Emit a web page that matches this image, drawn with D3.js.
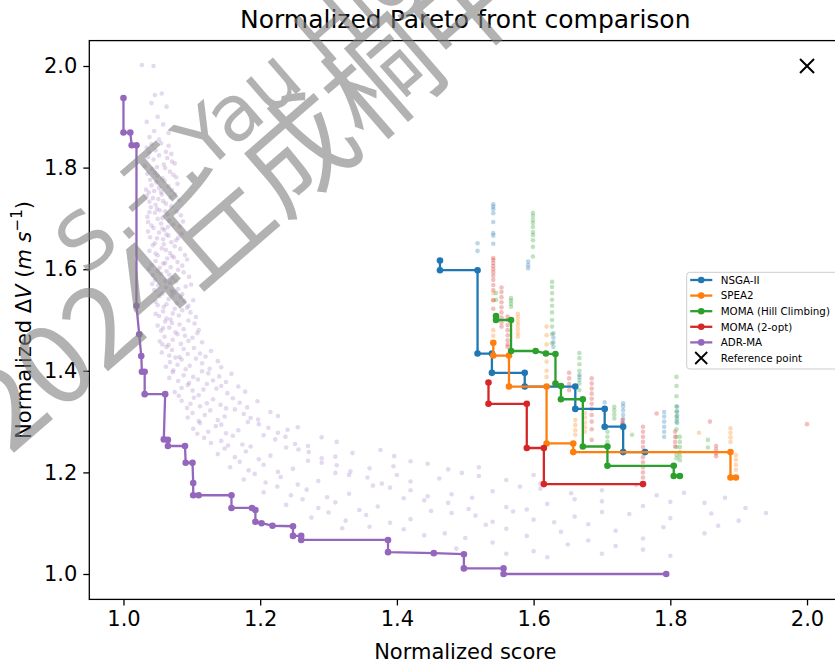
<!DOCTYPE html>
<html>
<head>
<meta charset="utf-8">
<script src="https://cdn.jsdelivr.net/npm/d3@7"></script>
<style>
  body { margin: 0; background: #fff; }
  svg { display: block; font-family: "DejaVu Sans", sans-serif; }
</style>
</head>
<body>
<div id="chart"></div>
<script>
// legend order / colours (matplotlib tab10)
const seriesNames = ["NSGA-II", "SPEA2", "MOMA (Hill Climbing)", "MOMA (2-opt)", "ADR-MA"];
const seriesColors = ["#1f77b4", "#ff7f0e", "#2ca02c", "#d62728", "#9467bd"];

// Pareto fronts, every vertex drawn with a marker: [score, deltaV]
const nsga2Front = [[1.463,1.617],[1.463,1.598],[1.518,1.598],[1.518,1.434],[1.539,1.434],[1.539,1.396],[1.587,1.396],[1.587,1.369],[1.661,1.369],[1.661,1.325],[1.704,1.325],[1.704,1.290],[1.731,1.290],[1.731,1.240],[1.763,1.240]];
const spea2Front = [[1.541,1.455],[1.541,1.430],[1.564,1.430],[1.564,1.369],[1.619,1.369],[1.619,1.257],[1.658,1.257],[1.658,1.240],[1.888,1.240],[1.888,1.190],[1.896,1.190]];
const momaHcFront = [[1.545,1.508],[1.545,1.500],[1.567,1.500],[1.567,1.439],[1.603,1.439],[1.618,1.434],[1.632,1.433],[1.632,1.375],[1.640,1.370],[1.640,1.344],[1.672,1.344],[1.672,1.251],[1.708,1.251],[1.708,1.213],[1.805,1.213],[1.805,1.193],[1.814,1.193]];
const moma2optFront = [[1.534,1.377],[1.534,1.335],[1.590,1.335],[1.590,1.248],[1.615,1.248],[1.615,1.177],[1.760,1.177]];
const adrFront = [[1.000,1.937],[1.000,1.869],[1.010,1.869],[1.012,1.844],[1.019,1.844],[1.019,1.528],[1.023,1.472],[1.026,1.429],[1.027,1.398],[1.031,1.398],[1.031,1.354],[1.061,1.354],[1.059,1.265],[1.065,1.264],[1.065,1.252],[1.090,1.252],[1.091,1.219],[1.101,1.219],[1.102,1.179],[1.102,1.155],[1.110,1.155],[1.158,1.155],[1.158,1.130],[1.188,1.130],[1.193,1.126],[1.193,1.103],[1.202,1.100],[1.218,1.095],[1.248,1.094],[1.248,1.075],[1.260,1.075],[1.260,1.067],[1.387,1.067],[1.387,1.043],[1.454,1.041],[1.498,1.039],[1.498,1.011],[1.556,1.011],[1.556,1.000],[1.794,1.000]];
const fronts = [nsga2Front, spea2Front, momaHcFront, moma2optFront, adrFront];

// final populations, read column by column: {x, ys}
const nsga2Pop = [
  {x: 1.541, ys: [1.728,1.723,1.718,1.710,1.693,1.671,1.666,1.650]},
  {x: 1.518, ys: [1.651,1.636]},
  {x: 1.592, ys: [1.615,1.608,1.602]},
  {x: 1.629, ys: [1.474,1.465,1.456,1.447]},
  {x: 1.667, ys: [1.392,1.382]},
  {x: 1.704, ys: [1.338]},
  {x: 1.731, ys: [1.336,1.330,1.322,1.313,1.305,1.296,1.287]},
  {x: 1.791, ys: [1.319,1.310,1.300,1.290,1.280,1.270]},
  {x: 1.810, ys: [1.329,1.320,1.312,1.305,1.297]}
];
const spea2Pop = [
  {x: 1.541, ys: [1.553,1.539,1.480,1.469]},
  {x: 1.577, ys: [1.512,1.505,1.497,1.490,1.482,1.474,1.467]},
  {x: 1.619, ys: [1.487,1.470,1.452,1.435,1.418,1.400,1.388]},
  {x: 1.661, ys: [1.303,1.293,1.283,1.274]},
  {x: 1.675, ys: [1.317,1.308,1.298,1.289,1.280]},
  {x: 1.842, ys: [1.278]},
  {x: 1.888, ys: [1.287,1.278,1.269,1.260]},
  {x: 1.896, ys: [1.234,1.225,1.215,1.205]}
];
const momaHcPop = [
  {x: 1.599, ys: [1.711,1.705,1.697,1.691,1.683,1.673,1.667,1.657,1.644,1.625]},
  {x: 1.545, ys: [1.553,1.540]},
  {x: 1.567, ys: [1.543,1.538,1.532,1.526]},
  {x: 1.627, ys: [1.575,1.565,1.553,1.540,1.528,1.515,1.500,1.487,1.472,1.454]},
  {x: 1.667, ys: [1.435,1.425,1.413,1.400,1.388,1.375,1.362]},
  {x: 1.718, ys: [1.329,1.322,1.314,1.306]},
  {x: 1.708, ys: [1.280,1.270,1.260]},
  {x: 1.744, ys: [1.274]},
  {x: 1.809, ys: [1.388,1.370,1.350,1.330,1.320,1.310,1.300,1.285,1.270,1.250,1.235,1.228]},
  {x: 1.814, ys: [1.270,1.260,1.250,1.240,1.232,1.224]},
  {x: 1.855, ys: [1.264,1.249]}
];
const moma2optPop = [
  {x: 1.541, ys: [1.622,1.618,1.612,1.606,1.600,1.594,1.587,1.579,1.569,1.559,1.539,1.522]},
  {x: 1.553, ys: [1.564,1.555,1.545,1.535,1.525,1.515,1.505,1.495,1.487]},
  {x: 1.562, ys: [1.507,1.500,1.490,1.480,1.470,1.460,1.452,1.447]},
  {x: 1.652, ys: [1.396,1.385,1.374,1.362]},
  {x: 1.685, ys: [1.385,1.375,1.365,1.355,1.345,1.335,1.325,1.313,1.300,1.285,1.264]},
  {x: 1.730, ys: [1.303,1.297,1.293]},
  {x: 1.760, ys: [1.290,1.280,1.270,1.260,1.250,1.240,1.230,1.220,1.210,1.200,1.190,1.179]},
  {x: 1.780, ys: [1.316]},
  {x: 1.807, ys: [1.280,1.270,1.260,1.251]},
  {x: 1.858, ys: [1.300]},
  {x: 1.867, ys: [1.252,1.245,1.238,1.232]},
  {x: 2.000, ys: [1.295]}
];
// ADR-MA population cloud: [score, deltaV]
const adrPop = [
  [1.027,2.002],[1.044,2.000],[1.046,1.943],[1.056,1.946],[1.041,1.927],[1.063,1.920],[1.050,1.900],[1.034,1.890],[1.058,1.885],[1.045,1.872],[1.066,1.868],[1.038,1.860],[1.052,1.855],
  [1.041,1.846],[1.062,1.831],[1.034,1.839],[1.055,1.848],[1.070,1.827],[1.047,1.834],[1.038,1.829],[1.066,1.843],
  [1.036,1.821],[1.059,1.806],[1.044,1.816],[1.071,1.812],[1.052,1.824],[1.031,1.803],[1.064,1.819],[1.049,1.801],[1.075,1.808],
  [1.042,1.797],[1.057,1.779],[1.035,1.788],[1.068,1.792],[1.050,1.784],[1.077,1.781],[1.039,1.776],[1.061,1.799],[1.046,1.790],[1.073,1.786],
  [1.048,1.771],[1.033,1.757],[1.066,1.763],[1.055,1.752],[1.079,1.768],[1.041,1.765],[1.060,1.774],[1.037,1.751],[1.071,1.756],[1.052,1.760],[1.045,1.754],
  [1.056,1.747],[1.038,1.733],[1.069,1.741],[1.047,1.727],[1.081,1.736],[1.034,1.744],[1.062,1.729],[1.051,1.738],[1.075,1.748],[1.043,1.740],[1.058,1.734],
  [1.040,1.722],[1.064,1.708],[1.053,1.716],[1.035,1.703],[1.078,1.713],[1.046,1.711],[1.070,1.724],[1.057,1.701],[1.084,1.706],[1.049,1.719],[1.061,1.714],[1.038,1.712],
  [1.067,1.696],[1.044,1.681],[1.055,1.690],[1.082,1.684],[1.036,1.693],[1.060,1.677],[1.073,1.688],[1.050,1.699],[1.041,1.686],[1.065,1.683],[1.087,1.694],[1.057,1.680],
  [1.052,1.672],[1.077,1.657],[1.039,1.663],[1.063,1.668],[1.046,1.651],[1.085,1.670],[1.058,1.659],[1.070,1.653],[1.036,1.674],[1.049,1.661],[1.066,1.666],[1.080,1.662],
  [1.043,1.647],[1.068,1.632],[1.056,1.641],[1.090,1.628],[1.038,1.636],[1.075,1.645],[1.050,1.627],[1.062,1.638],[1.083,1.640],[1.047,1.631],[1.071,1.626],[1.059,1.649],
  [1.064,1.621],[1.041,1.608],[1.079,1.614],[1.053,1.603],[1.093,1.619],[1.047,1.616],[1.069,1.604],[1.058,1.611],[1.086,1.607],[1.037,1.600],[1.074,1.623],[1.061,1.612],
  [1.050,1.597],[1.072,1.582],[1.043,1.588],[1.088,1.594],[1.061,1.577],[1.096,1.585],[1.055,1.591],[1.080,1.599],[1.067,1.589],[1.046,1.579],[1.077,1.576],[1.063,1.596],
  [1.068,1.573],[1.045,1.559],[1.091,1.566],[1.057,1.552],[1.080,1.561],[1.099,1.570],[1.051,1.568],[1.074,1.554],[1.062,1.564],[1.086,1.551],[1.042,1.571],[1.070,1.557],
  [1.053,1.547],[1.078,1.533],[1.066,1.541],[1.095,1.528],[1.047,1.536],[1.084,1.546],[1.059,1.526],[1.102,1.539],[1.071,1.548],[1.063,1.531],[1.089,1.538],[1.050,1.529],
  [1.075,1.522],[1.052,1.508],[1.098,1.515],[1.063,1.503],[1.086,1.519],[1.047,1.512],[1.069,1.501],[1.106,1.506],[1.058,1.517],[1.081,1.509],[1.093,1.524],[1.072,1.513],
  [1.061,1.497],[1.088,1.482],[1.050,1.489],[1.076,1.476],[1.104,1.493],[1.067,1.485],[1.095,1.499],[1.055,1.479],[1.082,1.491],[1.110,1.480],[1.071,1.494],[1.058,1.484],
  [1.079,1.472],[1.053,1.458],[1.101,1.465],[1.066,1.451],[1.090,1.469],[1.115,1.456],[1.060,1.467],[1.084,1.453],[1.072,1.461],[1.108,1.474],[1.095,1.459],[1.057,1.452],
  [1.063,1.447],[1.094,1.433],[1.071,1.441],[1.120,1.428],[1.056,1.436],[1.103,1.445],[1.082,1.427],[1.128,1.439],[1.088,1.443],[1.067,1.430],[1.112,1.434],[1.076,1.426],
  [1.085,1.422],[1.062,1.408],[1.115,1.415],[1.073,1.401],[1.138,1.419],[1.097,1.410],[1.068,1.417],[1.126,1.404],[1.091,1.403],[1.106,1.424],[1.079,1.412],[1.143,1.407],
  [1.072,1.397],[1.109,1.383],[1.088,1.391],[1.150,1.378],[1.067,1.386],[1.124,1.395],[1.096,1.376],[1.140,1.389],[1.080,1.380],[1.115,1.399],[1.158,1.394],[1.102,1.388],[1.131,1.381],
  [1.094,1.372],[1.075,1.358],[1.136,1.365],[1.110,1.352],[1.168,1.369],[1.085,1.366],[1.122,1.374],[1.152,1.356],[1.101,1.361],[1.178,1.359],[1.081,1.351],[1.143,1.370],[1.117,1.363],
  [1.103,1.347],[1.142,1.333],[1.085,1.341],[1.181,1.328],[1.122,1.336],[1.160,1.346],[1.093,1.327],[1.196,1.340],[1.131,1.344],[1.112,1.330],[1.170,1.337],[1.150,1.326],[1.098,1.335],
  [1.127,1.322],[1.094,1.308],[1.176,1.315],[1.110,1.301],[1.215,1.319],[1.148,1.310],[1.101,1.317],[1.197,1.304],[1.138,1.303],[1.226,1.311],[1.163,1.324],[1.119,1.313],[1.186,1.307],
  [1.112,1.297],[1.168,1.283],[1.135,1.291],[1.226,1.278],[1.102,1.286],[1.198,1.295],[1.150,1.277],[1.255,1.289],[1.124,1.280],[1.182,1.299],[1.240,1.284],[1.143,1.294],[1.212,1.288],[1.108,1.276],
  [1.160,1.272],[1.128,1.258],[1.222,1.265],[1.186,1.251],[1.290,1.269],[1.143,1.262],[1.251,1.256],[1.205,1.273],[1.118,1.268],[1.312,1.260],[1.174,1.255],[1.237,1.270],[1.270,1.252],[1.153,1.253],
  [1.148,1.247],[1.215,1.233],[1.179,1.241],[1.290,1.228],[1.138,1.236],[1.256,1.245],[1.335,1.238],[1.198,1.226],[1.376,1.244],[1.163,1.230],[1.238,1.249],[1.310,1.231],[1.271,1.240],[1.396,1.232],
  [1.170,1.221],[1.248,1.207],[1.205,1.215],[1.332,1.202],[1.156,1.210],[1.290,1.219],[1.395,1.212],[1.226,1.201],[1.445,1.217],[1.183,1.204],[1.270,1.223],[1.360,1.208],[1.312,1.214],[1.475,1.206],[1.420,1.222],
  [1.192,1.197],[1.285,1.183],[1.230,1.191],[1.378,1.178],[1.176,1.186],[1.330,1.195],[1.462,1.188],[1.255,1.176],[1.520,1.193],[1.208,1.180],[1.310,1.199],[1.420,1.182],[1.357,1.190],[1.560,1.185],[1.495,1.199],[1.400,1.195],
  [1.225,1.172],[1.330,1.158],[1.268,1.166],[1.445,1.153],[1.205,1.161],[1.390,1.170],[1.540,1.163],[1.298,1.151],[1.610,1.168],[1.245,1.155],[1.365,1.174],[1.480,1.157],[1.420,1.165],[1.655,1.159],[1.580,1.172],[1.510,1.150],
  [1.262,1.147],[1.372,1.133],[1.310,1.141],[1.505,1.128],[1.238,1.136],[1.440,1.145],[1.620,1.138],[1.345,1.126],[1.700,1.143],[1.285,1.130],[1.410,1.149],[1.560,1.132],[1.475,1.140],[1.760,1.134],[1.660,1.147],[1.590,1.127],[1.800,1.142],
  [1.300,1.121],[1.420,1.108],[1.355,1.116],[1.540,1.103],[1.275,1.111],[1.480,1.120],[1.660,1.113],[1.390,1.101],[1.740,1.118],[1.325,1.105],[1.450,1.124],[1.600,1.107],[1.515,1.115],[1.800,1.110],[1.700,1.122],[1.630,1.102],[1.860,1.119],[1.570,1.123],
  [1.360,1.093],[1.470,1.080],[1.410,1.088],[1.590,1.075],[1.320,1.090],[1.530,1.097],[1.720,1.085],[1.440,1.076],[1.790,1.092],[1.640,1.083],[1.560,1.089],[1.850,1.080],[1.680,1.098],[1.500,1.071],[1.760,1.070],
  [1.487,1.050],[1.540,1.062],[1.600,1.045],[1.650,1.058],[1.700,1.040],[1.620,1.033],[1.760,1.048],[1.800,1.036],[1.720,1.055],[1.560,1.040],[1.680,1.066],
  [1.610,1.178],[1.700,1.165],[1.750,1.175],[1.820,1.160],[1.880,1.150],[1.910,1.130],[1.850,1.140],[1.900,1.105],[1.780,1.155],[1.870,1.095],[1.940,1.120],[1.520,1.210],[1.600,1.195]
];
const pops = [nsga2Pop, spea2Pop, momaHcPop, moma2optPop];

const referencePoint = [2.0, 2.0];
const xTicks = [1.0, 1.2, 1.4, 1.6, 1.8, 2.0];
const yTicks = [1.0, 1.2, 1.4, 1.6, 1.8, 2.0];

(function () {
  const width = 835;
  const height = 663;
  const plot = { left: 89.3, top: 40.6, right: 841.2, bottom: 599.4 };

  const svg = d3.select("#chart")
    .append("svg")
    .attr("width", width)
    .attr("height", height);

  const x = d3.scaleLinear()
    .domain([0.95, 2.05])
    .range([plot.left, plot.right]);

  const y = d3.scaleLinear()
    .domain([0.95, 2.05])
    .range([plot.bottom, plot.top]);

  svg.append("clipPath")
    .attr("id", "plotClip")
    .append("rect")
    .attr("x", plot.left)
    .attr("y", plot.top)
    .attr("width", plot.right - plot.left)
    .attr("height", plot.bottom - plot.top);

  const area = svg.append("g").attr("clip-path", "url(#plotClip)");

  // population clouds
  area.append("g")
    .selectAll("circle")
    .data(adrPop)
    .enter().append("circle")
    .attr("cx", d => x(d[0]))
    .attr("cy", d => y(d[1]))
    .attr("r", 2.3)
    .attr("fill", seriesColors[4])
    .attr("opacity", 0.25);

  pops.forEach((pop, i) => {
    const pts = pop.flatMap(c => c.ys.map(v => [c.x, v]));
    area.append("g")
      .selectAll("circle")
      .data(pts)
      .enter().append("circle")
      .attr("cx", d => x(d[0]))
      .attr("cy", d => y(d[1]))
      .attr("r", 2.3)
      .attr("fill", seriesColors[i])
      .attr("opacity", 0.3);
  });

  // fronts
  const line = d3.line()
    .x(d => x(d[0]))
    .y(d => y(d[1]));

  fronts.forEach((front, i) => {
    const g = area.append("g");
    g.append("path")
      .datum(front)
      .attr("d", line)
      .attr("fill", "none")
      .attr("stroke", seriesColors[i])
      .attr("stroke-width", 2.3)
      .attr("stroke-linejoin", "round");
    g.selectAll("circle")
      .data(front)
      .enter().append("circle")
      .attr("cx", d => x(d[0]))
      .attr("cy", d => y(d[1]))
      .attr("r", 3.3)
      .attr("fill", seriesColors[i]);
  });

  // reference point
  area.append("path")
    .attr("d", "M-7,-7L7,7M-7,7L7,-7")
    .attr("transform", `translate(${x(referencePoint[0])},${y(referencePoint[1])})`)
    .attr("stroke", "black")
    .attr("stroke-width", 2);

  // axes
  const xAxis = svg.append("g")
    .attr("transform", `translate(0,${plot.bottom})`)
    .call(d3.axisBottom(x).tickValues(xTicks).tickFormat(d3.format(".1f")).tickSize(6).tickPadding(6));
  const yAxis = svg.append("g")
    .attr("transform", `translate(${plot.left},0)`)
    .call(d3.axisLeft(y).tickValues(yTicks).tickFormat(d3.format(".1f")).tickSize(6).tickPadding(6));

  [xAxis, yAxis].forEach(ax => {
    ax.select(".domain").remove();
    ax.selectAll("line").attr("stroke", "#000").attr("stroke-width", 1.3);
    ax.selectAll("text")
      .style("font-family", "DejaVu Sans, sans-serif")
      .style("font-size", "21px")
      .attr("fill", "#000");
  });

  svg.append("rect")
    .attr("x", plot.left)
    .attr("y", plot.top)
    .attr("width", plot.right - plot.left)
    .attr("height", plot.bottom - plot.top)
    .attr("fill", "none")
    .attr("stroke", "#000")
    .attr("stroke-width", 1.3);

  // titles
  svg.append("text")
    .attr("x", (plot.left + plot.right) / 2)
    .attr("y", 28)
    .attr("text-anchor", "middle")
    .style("font-size", "25px")
    .text("Normalized Pareto front comparison");

  svg.append("text")
    .attr("x", (plot.left + plot.right) / 2)
    .attr("y", 659)
    .attr("text-anchor", "middle")
    .style("font-size", "21px")
    .text("Normalized score");

  const yl = svg.append("text")
    .attr("transform", `translate(31,${(plot.top + plot.bottom) / 2}) rotate(-90)`)
    .attr("text-anchor", "middle")
    .style("font-size", "21px");
  yl.append("tspan").text("Normalized Δ");
  yl.append("tspan").style("font-style", "italic").text("V");
  yl.append("tspan").text(" (");
  yl.append("tspan").style("font-style", "italic").text("m");
  yl.append("tspan").text(" ");
  yl.append("tspan").style("font-style", "italic").text("s");
  yl.append("tspan").attr("dy", -9).style("font-size", "15px").text("−1");
  yl.append("tspan").attr("dy", 9).text(")");

  // legend
  const legend = svg.append("g").attr("transform", "translate(686.7,272.3)");
  legend.append("rect")
    .attr("width", 160)
    .attr("height", 96.7)
    .attr("rx", 3)
    .attr("fill", "white")
    .attr("fill-opacity", 0.8)
    .attr("stroke", "#cccccc");

  const entries = seriesNames.map((n, i) => ({ name: n, color: seriesColors[i] }))
    .concat([{ name: "Reference point", color: null }]);

  const rows = legend.selectAll("g.row")
    .data(entries)
    .enter().append("g")
    .attr("class", "row")
    .attr("transform", (d, i) => `translate(0,${7.7 + i * 15.6})`);

  rows.filter(d => d.color).append("line")
    .attr("x1", 3.5).attr("x2", 25.6)
    .attr("stroke", d => d.color)
    .attr("stroke-width", 2.3);
  rows.filter(d => d.color).append("circle")
    .attr("cx", 14.5)
    .attr("r", 3.3)
    .attr("fill", d => d.color);
  rows.filter(d => !d.color).append("path")
    .attr("d", "M-6,-6L6,6M-6,6L6,-6")
    .attr("transform", "translate(14.5,0)")
    .attr("stroke", "black")
    .attr("stroke-width", 1.8);
  rows.append("text")
    .attr("x", 34)
    .attr("y", 3.7)
    .style("font-size", "10.3px")
    .text(d => d.name);

  // watermark over the figure
  const wm = svg.append("g")
    .attr("fill", "#808080")
    .attr("opacity", 0.6)
    .style("pointer-events", "none");
  const wm1 = wm.append("g").attr("transform", "translate(205,173) rotate(-41)")
    .style("font-family", "DejaVu Sans, sans-serif")
    .style("font-size", "78px");
  wm1.append("text").attr("text-anchor", "end").text("S.-T. ");
  wm1.append("text").text("Yau High School");
  const wm2 = wm.append("g").attr("transform", "translate(198,293) rotate(-41)")
    .style("font-family", "'Noto Sans CJK SC', sans-serif")
    .style("font-size", "112px");
  wm2.append("text").attr("text-anchor", "end").text("2024");
  wm2.append("text").text("丘成桐中学科学奖");
})();
</script>
</body>
</html>
